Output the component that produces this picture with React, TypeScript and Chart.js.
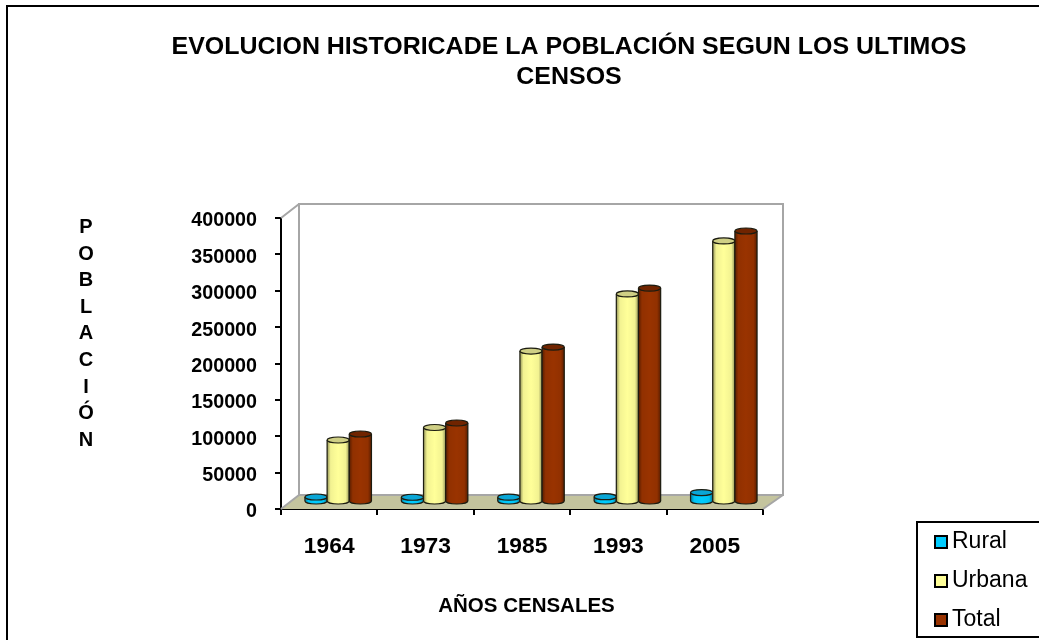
import React, { useEffect, useRef } from "react";
import { Chart, registerables } from "chart.js";

Chart.register(...registerables);

const categories = ["1964", "1973", "1985", "1993", "2005"];
const rural = [6900, 6500, 6700, 7300, 13000];
const urbana = [85200, 102400, 207500, 286000, 358800];
const total = [93500, 108600, 213000, 294000, 372500];
const titleLines = ["EVOLUCION HISTORICADE LA POBLACIÓN SEGUN LOS ULTIMOS", "CENSOS"];
const yTitle = ["P", "O", "B", "L", "A", "C", "I", "Ó", "N"];
const xTitle = "AÑOS CENSALES";

const FONT = '"Liberation Sans", Arial, sans-serif';
const DEPTH_X = 18;
const DEPTH_Y = 14;
const BAR_DX = 9;
const BAR_DY = -7;
const RY = 3;

const topColors: Record<string, string> = {
  Rural: "#0aa6d6",
  Urbana: "#cfcf85",
  Total: "#702400",
};

function drawCylinders(chart: any, index: number) {
  const { ctx } = chart;
  const meta = chart.getDatasetMeta(index);
  const ds = chart.data.datasets[index];
  ctx.save();
  ctx.translate(BAR_DX, BAR_DY);
  for (const el of meta.data) {
    const p = el.getProps(["x", "base", "width"], true);
    ctx.beginPath();
    ctx.ellipse(p.x, p.base, p.width / 2, RY, 0, 0, Math.PI * 2);
    ctx.fillStyle = ds.backgroundColor;
    ctx.fill();
  }
  meta.controller.draw();
  for (const el of meta.data) {
    const p = el.getProps(["x", "y", "base", "width"], true);
    const l = p.x - p.width / 2;
    const r = p.x + p.width / 2;
    const g = ctx.createLinearGradient(l, 0, r, 0);
    g.addColorStop(0, "rgba(0,0,0,0.42)");
    g.addColorStop(0.16, "rgba(0,0,0,0.05)");
    g.addColorStop(0.5, "rgba(0,0,0,0)");
    g.addColorStop(0.84, "rgba(0,0,0,0.05)");
    g.addColorStop(1, "rgba(0,0,0,0.42)");
    ctx.beginPath();
    ctx.moveTo(l, p.y);
    ctx.lineTo(r, p.y);
    ctx.lineTo(r, p.base);
    ctx.ellipse(p.x, p.base, p.width / 2, RY, 0, 0, Math.PI);
    ctx.closePath();
    ctx.fillStyle = g;
    ctx.fill();
    ctx.strokeStyle = "#1c1c10";
    ctx.lineWidth = 1.2;
    ctx.beginPath();
    ctx.moveTo(l, p.y);
    ctx.lineTo(l, p.base);
    ctx.ellipse(p.x, p.base, p.width / 2, RY, 0, Math.PI, 0, true);
    ctx.lineTo(r, p.y);
    ctx.stroke();
    ctx.beginPath();
    ctx.ellipse(p.x, p.y, p.width / 2, RY, 0, 0, Math.PI * 2);
    ctx.fillStyle = topColors[ds.label];
    ctx.fill();
    ctx.stroke();
  }
  ctx.restore();
}

const scenePlugin = {
  id: "scene",
  beforeDatasetsDraw(chart: any) {
    const { ctx, chartArea: a } = chart;
    ctx.save();
    ctx.fillStyle = "#c4c49e";
    ctx.beginPath();
    ctx.moveTo(a.left, a.bottom);
    ctx.lineTo(a.right, a.bottom);
    ctx.lineTo(a.right + DEPTH_X + 2, a.bottom - DEPTH_Y);
    ctx.lineTo(a.left + DEPTH_X, a.bottom - DEPTH_Y);
    ctx.closePath();
    ctx.fill();
    ctx.strokeStyle = "#a6a6a6";
    ctx.lineWidth = 2;
    ctx.beginPath();
    ctx.rect(a.left + DEPTH_X, a.top - DEPTH_Y, a.width + 2, a.height);
    ctx.moveTo(a.left, a.top);
    ctx.lineTo(a.left + DEPTH_X, a.top - DEPTH_Y);
    ctx.moveTo(a.left, a.bottom);
    ctx.lineTo(a.left + DEPTH_X, a.bottom - DEPTH_Y);
    ctx.moveTo(a.right, a.bottom);
    ctx.lineTo(a.right + DEPTH_X + 2, a.bottom - DEPTH_Y);
    ctx.stroke();
    ctx.restore();
    // Rural first, Total last: each cylinder overlaps the previous one.
    chart.data.datasets.forEach((_: any, i: number) => drawCylinders(chart, i));
    return false;
  },
  afterDraw(chart: any) {
    const { ctx } = chart;
    ctx.save();
    // page frame
    ctx.strokeStyle = "#000";
    ctx.lineWidth = 2;
    ctx.beginPath();
    ctx.moveTo(1045, 6);
    ctx.lineTo(7, 6);
    ctx.lineTo(7, 646);
    ctx.stroke();
    // title, slightly widened like the reference's stretched lettering
    ctx.fillStyle = "#000";
    ctx.textAlign = "center";
    ctx.textBaseline = "middle";
    ctx.font = `bold 23px ${FONT}`;
    titleLines.forEach((t, i) => {
      ctx.save();
      ctx.translate(569, 48 + i * 30);
      ctx.scale(1.085, 1);
      ctx.fillText(t, 0, 0);
      ctx.restore();
    });
    // axis titles
    ctx.font = `bold 20px ${FONT}`;
    yTitle.forEach((t, i) => ctx.fillText(t, 86, 227.5 + i * 26.6));
    ctx.font = `bold 20.5px ${FONT}`;
    ctx.fillText(xTitle, 526.5, 606);
    // legend
    ctx.fillStyle = "#fff";
    ctx.fillRect(917, 522, 130, 115);
    ctx.strokeStyle = "#000";
    ctx.lineWidth = 2;
    ctx.strokeRect(917, 522, 130, 115);
    ctx.textAlign = "left";
    ctx.font = `23px ${FONT}`;
    chart.data.datasets.forEach((ds: any, i: number) => {
      const cy = 542 + i * 39;
      ctx.fillStyle = ds.backgroundColor;
      ctx.fillRect(935, cy - 6, 12, 12);
      ctx.strokeStyle = "#000";
      ctx.strokeRect(935, cy - 6, 12, 12);
      ctx.fillStyle = "#000";
      ctx.fillText(ds.label, 952, cy);
    });
    ctx.restore();
  },
};

export default function App() {
  const ref = useRef<HTMLCanvasElement>(null);
  useEffect(() => {
    const chart = new Chart(ref.current!, {
      type: "bar",
      data: {
        labels: categories,
        datasets: [
          { label: "Rural", data: rural, backgroundColor: "#00ccff" },
          { label: "Urbana", data: urbana, backgroundColor: "#ffff99" },
          { label: "Total", data: total, backgroundColor: "#993300" },
        ] as any,
      },
      options: {
        animation: false,
        responsive: false,
        layout: { padding: { left: 0, top: 218, right: 276, bottom: 0 } },
        datasets: { bar: { categoryPercentage: 0.69, barPercentage: 1 } },
        plugins: { legend: { display: false }, title: { display: false }, tooltip: { enabled: false } },
        scales: {
          x: {
            afterFit(s: any) { s.height = 131; },
            border: { color: "#000", width: 2 },
            grid: { drawOnChartArea: false, color: "#000", lineWidth: 2, tickLength: 6 },
            ticks: { color: "#000", font: { family: FONT, weight: "bold", size: 22.8 }, padding: 18, maxRotation: 0 },
          },
          y: {
            min: 0,
            max: 400000,
            afterFit(s: any) { s.width = 281; },
            border: { color: "#000", width: 2 },
            grid: { drawOnChartArea: false, color: "#000", lineWidth: 2, tickLength: 6 },
            ticks: {
              stepSize: 50000,
              color: "#000",
              padding: 18,
              labelOffset: 3,
              font: { family: FONT, weight: "bold", size: 19.7 },
              callback: (v: any) => String(v),
            },
          },
        },
      } as any,
      plugins: [scenePlugin],
    });
    return () => chart.destroy();
  }, []);
  return (
    <div style={{ position: "fixed", left: 0, top: 0, width: 1039, height: 640, overflow: "hidden", background: "#fff" }}>
      <canvas ref={ref} width={1039} height={640} style={{ display: "block" }} />
    </div>
  );
}
